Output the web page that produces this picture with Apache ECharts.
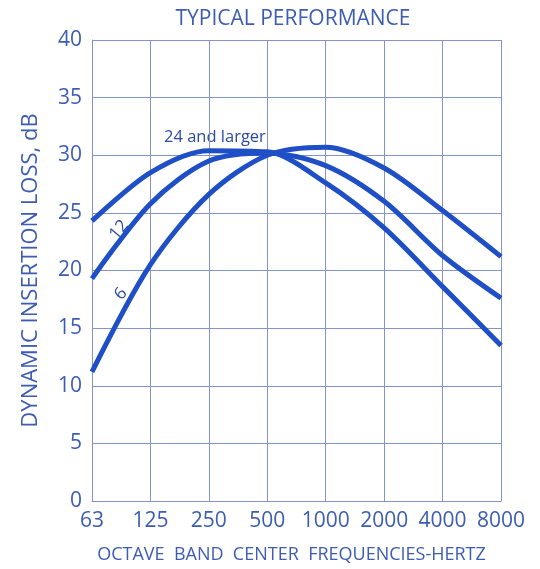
<!DOCTYPE html>
<html>
<head>
<meta charset="utf-8">
<script src="https://cdn.jsdelivr.net/npm/echarts@6/dist/echarts.min.js"></script>
<style>html,body{margin:0;padding:0;background:#fff}#c{width:540px;height:569px}</style>
</head>
<body>
<div id="c"></div>
<script>
// Octave band tick labels (index positions 0..7)
const freqLabels = ['63', '125', '250', '500', '1000', '2000', '4000', '8000'];
// Dynamic insertion loss, dB, per octave band
const loss24 = [24.3, 28.5, 30.4, 30.3, 27.6, 23.7, 18.6, 13.5];
const loss12 = [19.3, 25.8, 29.5, 30.2, 29.1, 26.0, 21.3, 17.6];
const loss6  = [11.2, 20.5, 26.6, 30.0, 30.7, 28.9, 25.2, 21.2];

const blue = '#1f4fc6';
const textBlue = '#3d5db3';
const gridCol = '#8394c6';

function toPairs(arr) { return arr.map((v, i) => [i, v]); }

const chart = echarts.init(document.getElementById('c'));
const font = 'Open Sans';
chart.setOption({
  animation: false,
  title: {
    text: 'TYPICAL PERFORMANCE',
    left: 288, top: 4, textAlign: 'center',
    textStyle: { fontFamily: font, fontSize: 21, fontWeight: 'normal', color: textBlue, letterSpacing: 1.1 }
  },
  grid: { left: 92, right: 39, top: 40, bottom: 62 },
  xAxis: {
    type: 'value', min: 0, max: freqLabels.length - 1, interval: 1,
    name: 'OCTAVE  BAND  CENTER  FREQUENCIES-HERTZ',
    nameLocation: 'middle', nameGap: 45,
    nameTextStyle: { fontFamily: font, fontSize: 18, color: textBlue, letterSpacing: 0.6, padding: [0, 10, 0, 0] },
    axisLine: { show: true, lineStyle: { color: gridCol, width: 1 } },
    axisTick: { show: false },
    splitLine: { show: true, lineStyle: { color: gridCol, width: 1 } },
    axisLabel: {
      formatter: v => freqLabels[v] || '', margin: 10,
      fontFamily: font, fontSize: 21, color: textBlue
    }
  },
  yAxis: {
    type: 'value', min: 0, max: 40, interval: 5,
    name: 'DYNAMIC INSERTION LOSS, dB',
    nameLocation: 'middle', nameGap: 50, nameRotate: 90,
    nameTextStyle: { fontFamily: font, fontSize: 22, color: textBlue, letterSpacing: 3.2 },
    axisLine: { show: true, lineStyle: { color: gridCol, width: 1 } },
    axisTick: { show: false },
    splitLine: { show: true, lineStyle: { color: gridCol, width: 1 } },
    axisLabel: { margin: 10, fontFamily: font, fontSize: 21, color: textBlue }
  },
  series: [
    { name: '24 and larger', type: 'line', data: toPairs(loss24), smooth: 0.3, symbol: 'none', lineStyle: { color: blue, width: 5 } },
    { name: '12', type: 'line', data: toPairs(loss12), smooth: 0.3, symbol: 'none', lineStyle: { color: blue, width: 5 } },
    { name: '6', type: 'line', data: toPairs(loss6), smooth: 0.3, symbol: 'none', lineStyle: { color: blue, width: 5 } }
  ],
  graphic: [
    { type: 'text', left: 164, top: 129, style: { text: '24 and larger', font: '16.5px "Open Sans"', fill: '#2c4aa0' } },
    { type: 'text', x: 119, y: 230, rotation: 50 * Math.PI / 180, style: { text: '12', font: '17px "Open Sans"', fill: '#2c4aa0', align: 'center', verticalAlign: 'middle' } },
    { type: 'text', x: 121, y: 294, rotation: 50 * Math.PI / 180, style: { text: '6', font: '17px "Open Sans"', fill: '#2c4aa0', align: 'center', verticalAlign: 'middle' } }
  ]
});
</script>
</body>
</html>
